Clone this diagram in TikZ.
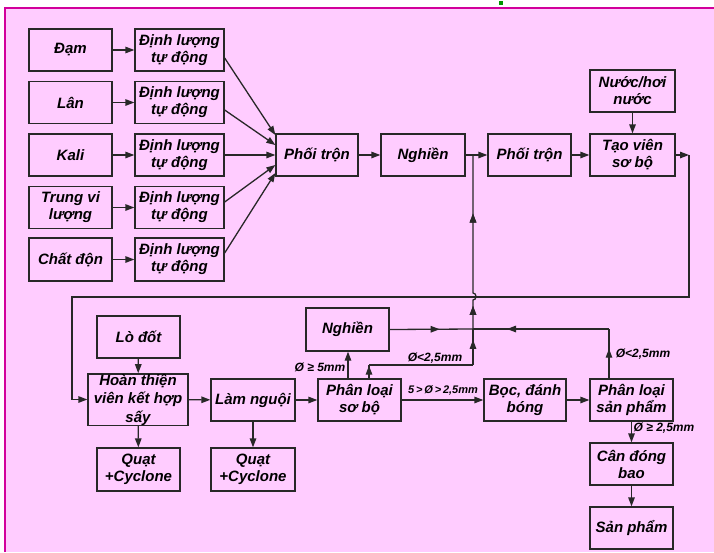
\documentclass[tikz,border=0pt]{standalone}
\usepackage{fontspec}
\setmainfont{Liberation Sans}
\usetikzlibrary{arrows.meta,calc,decorations.markings}
\definecolor{bgpink}{RGB}{255,204,255}
\definecolor{framec}{RGB}{210,0,155}
\definecolor{linec}{RGB}{40,40,40}
\definecolor{dotgreen}{RGB}{0,150,0}
\tikzset{
  tip/.tip={Triangle[length=9pt,width=6.5pt]},
  box/.style={draw=linec, line width=1.3pt, align=center, inner sep=1pt,
    minimum height=42pt, text=black,
    font=\bfseries\itshape\fontsize{15}{17}\selectfont},
  conn/.style={draw=linec, line width=1.3pt},
  arr/.style={conn, -tip},
  midarrow/.style={conn, postaction={decorate},
    decoration={markings, mark=at position #1 with {\arrow{tip}}}},
  lbl/.style={font=\bfseries\itshape\fontsize{12}{13}\selectfont, inner sep=0pt, text=black}
}
\begin{document}
\begin{tikzpicture}[x=1pt,y=-1pt]
\useasboundingbox (0,0) rectangle (714,552);
\fill[white] (0,0) rectangle (714,552);
\fill[bgpink] (5,8) rectangle (714,552);
\draw[framec, line width=2.6pt] (5,552) -- (5,8) -- (714,8);
\fill[dotgreen] (499,1) rectangle (503,5);

% inputs
\node[box, minimum width=83pt] (dam) at (70.5,50) {Đạm};
\node[box, minimum width=83pt] (lan) at (70.5,102.5) {Lân};
\node[box, minimum width=83pt] (kali) at (70.5,155) {Kali};
\node[box, minimum width=83pt] (tvl) at (70.5,207.5) {Trung vi\\lượng};
\node[box, minimum width=83pt, minimum height=43pt] (cdon) at (70.5,259.5) {Chất độn};

\node[box, minimum width=89pt] (dl1) at (179.5,50) {Định lượng\\tự động};
\node[box, minimum width=89pt] (dl2) at (179.5,102.5) {Định lượng\\tự động};
\node[box, minimum width=89pt] (dl3) at (179.5,155) {Định lượng\\tự động};
\node[box, minimum width=89pt] (dl4) at (179.5,207.5) {Định lượng\\tự động};
\node[box, minimum width=89pt, minimum height=43pt] (dl5) at (179.5,259.5) {Định lượng\\tự động};

\node[box, minimum width=82pt] (pt1) at (317,155) {Phối trộn};
\node[box, minimum width=84pt] (ng1) at (423,155) {Nghiền};
\node[box, minimum width=83pt] (pt2) at (529.5,155) {Phối trộn};
\node[box, minimum width=85pt] (tv) at (632.5,155) {Tạo viên\\sơ bộ};
\node[box, minimum width=85pt] (nuoc) at (632.5,91) {Nước/hơi\\nước};

% lower part
\node[box, minimum width=83pt] (lodot) at (138.5,337) {Lò đốt};
\node[box, minimum width=100pt, minimum height=51pt, inner sep=0pt,
  font=\bfseries\itshape\fontsize{15}{18.5}\selectfont] (ht) at (138,399.5) {Hoàn thiện\\viên kết hợp\\sấy};
\node[box, minimum width=84pt] (lamng) at (253,400) {Làm nguội};
\node[box, minimum width=83pt, minimum height=43pt] (q1) at (138.5,469.5) {Quạt\\+Cyclone};
\node[box, minimum width=84pt, minimum height=43pt] (q2) at (253,469.5) {Quạt\\+Cyclone};
\node[box, minimum width=83pt, minimum height=43pt] (ng2) at (347.5,329.5) {Nghiền};
\node[box, minimum width=83pt] (plsb) at (359.5,400) {Phân loại\\sơ bộ};
\node[box, minimum width=82pt] (boc) at (525,400) {Bọc, đánh\\bóng};
\node[box, minimum width=83pt] (plsp) at (631.5,400) {Phân loại\\sản phẩm};
\node[box, minimum width=83pt] (can) at (631.5,464) {Cân đóng\\bao};
\node[box, minimum width=83pt] (sp) at (631.5,528) {Sản phẩm};

% input arrows
\draw[arr] (dam) -- (dl1);
\draw[arr] (lan) -- (dl2);
\draw[arr] (kali) -- (dl3);
\draw[arr] (tvl) -- (dl4);
\draw[arr] (cdon) -- (dl5);
\draw[arr] ($(dl1.east)+(0,8)$) -- ($(pt1.west)+(0,-20)$);
\draw[arr] ($(dl2.east)+(0,7.5)$) -- ($(pt1.west)+(0,-10)$);
\draw[arr] (dl3) -- (pt1);
\draw[arr] ($(dl4.east)+(0,-5.5)$) -- ($(pt1.west)+(0,10)$);
\draw[arr] ($(dl5.east)+(0,-6.5)$) -- ($(pt1.west)+(0,18)$);

% top chain
\draw[arr] (pt1) -- (ng1);
\draw[arr] (ng1) -- (pt2);
\draw[arr] (pt2) -- (tv);
\draw[arr] (nuoc) -- (tv);

% return to drying
\coordinate (c1) at (689,155);
\coordinate (c2) at (72,297);
\draw[arr] (tv) -- (c1);
\draw[arr] (c1) |- (c2) |- (ht.west);

% collector line x=473
\coordinate (j1) at (473,155);
\coordinate (j2) at (473,329);
\coordinate (j3) at (473,365);
\draw[midarrow=0.7] (j3) -- (j2);
\draw[midarrow=0.13, postaction={decorate}, decoration={markings, mark=at position 0.67 with {\arrow{tip}}}]
  (j2) -- (473,300) .. controls (477,300) and (477,293) .. (473,293) -- (j1);

% lower Nghiền and product recycling
\draw[midarrow=0.6] (ng2.east) -- (j2);
\coordinate (c3) at (609,329);
\draw[midarrow=0.6] (plsp.north -| c3) -- (c3);
\draw[midarrow=0.75] (c3) -- (j2);
\coordinate (c4) at (369,365);
\draw[midarrow=0.95] (plsb.north -| c4) -- (c4);
\draw[conn] (c4) -- (j3);
\coordinate (c5) at (348,379);
\draw[arr] (plsb.north -| c5) -- (ng2.south -| c5);

% lower chain
\draw[arr] (lodot) -- (ht);
\draw[arr] (ht) -- (lamng);
\draw[arr] (lamng) -- (plsb);
\draw[arr] (plsb) -- (boc);
\draw[arr] (boc) -- (plsp);
\draw[arr] (ht) -- (q1);
\draw[arr] (lamng) -- (q2);
\draw[arr] (plsp) -- (can);
\draw[arr] (can) -- (sp);

% labels
\node[lbl] (l1) at (320,367) {Ø ≥ 5mm};
\node[lbl] (l2) at (435,358) {Ø<2,5mm};
\node[lbl, font=\bfseries\itshape\fontsize{11}{12}\selectfont] (l3) at (443,390) {5\,>\,Ø\,>\,2,5mm};
\node[lbl] (l4) at (643,354) {Ø<2,5mm};
\node[lbl] (l5) at (664,428) {Ø ≥ 2,5mm};
\end{tikzpicture}
\end{document}
